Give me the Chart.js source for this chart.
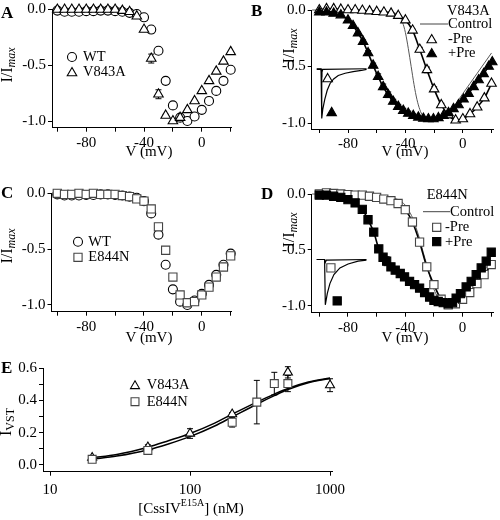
<!DOCTYPE html>
<html>
<head>
<meta charset="utf-8">
<title>Normalized I-V relations and CssIV E15A dose response</title>
<script src="https://cdn.jsdelivr.net/npm/chart.js@4.4.1/dist/chart.umd.min.js"></script>
<style>
  html, body { margin: 0; padding: 0; background: #fff; }
  #fig { position: relative; width: 500px; height: 520px; overflow: hidden; background: #fff;
         font-family: "Liberation Serif", "Times New Roman", serif; color: #000; }
  #fig canvas { position: absolute; }
  .txt { position: absolute; white-space: nowrap; line-height: 1; font-size: 15px; }
  .tag { font-size: 17px; font-weight: bold; }
  .ytitle { font-size: 16px; transform: translate(-50%, -50%) rotate(-90deg); }
  .xtitle { transform: translateX(-50%); }
  .sub { font-size: 12px; position: relative; top: 3px; }
  .sup { font-size: 10px; position: relative; top: -7px; }
</style>
</head>
<body>
<div id="fig">
  <canvas id="chartA" width="250" height="170" style="left:0;top:0"></canvas>
  <canvas id="chartB" width="250" height="170" style="left:250px;top:0"></canvas>
  <canvas id="chartC" width="250" height="170" style="left:0;top:170px"></canvas>
  <canvas id="chartD" width="250" height="170" style="left:250px;top:170px"></canvas>
  <canvas id="chartE" width="500" height="180" style="left:0;top:340px"></canvas>

  <div class="txt tag" style="left:1px;top:4px">A</div>
  <div class="txt tag" style="left:251px;top:2px">B</div>
  <div class="txt tag" style="left:1px;top:184px">C</div>
  <div class="txt tag" style="left:261px;top:185px">D</div>
  <div class="txt tag" style="left:1px;top:359px">E</div>

  <div class="txt ytitle" style="left:7px;top:65px">I/I<i class="sub">max</i></div>
  <div class="txt ytitle" style="left:289px;top:46px">I/I<i class="sub">max</i></div>
  <div class="txt ytitle" style="left:7px;top:246px">I/I<i class="sub">max</i></div>
  <div class="txt ytitle" style="left:289px;top:230px">I/I<i class="sub">max</i></div>
  <div class="txt ytitle" style="left:6px;top:422px">I<span class="sub">VST</span></div>

  <div class="txt xtitle" style="left:149px;top:144px">V (mV)</div>
  <div class="txt xtitle" style="left:405px;top:144px">V (mV)</div>
  <div class="txt xtitle" style="left:149px;top:330px">V (mV)</div>
  <div class="txt xtitle" style="left:405px;top:330px">V (mV)</div>
  <div class="txt xtitle" style="left:191px;top:501px">[CssIV<span class="sup">E15A</span>] (nM)</div>
</div>

<script>
// ---- axis ticks ----
const ivTicks = [-100, -80, -60, -40, -20, 0, 20];
const ivTickLabels = [-80, -40, 0];
const iTicks = [-1.0, -0.5, 0.0];
const concTicks = [10, 100, 1000];
const vstTicks = [0.0, 0.1, 0.2, 0.3, 0.4, 0.5, 0.6];
const vstTickLabels = [0.0, 0.2, 0.4, 0.6];

// ---- panels A and C (5 mV steps) ----
const stepV = [-100, -95, -90, -85, -80, -75, -70, -65, -60, -55, -50, -45, -40, -35, -30, -25, -20, -15, -10, -5, 0, 5, 10, 15, 20];
const wtI = [-0.01, -0.02, -0.02, -0.02, -0.015, -0.015, -0.01, -0.01, -0.015, -0.02, -0.03, -0.04, -0.07, -0.18, -0.37, -0.64, -0.86, -0.97, -1.0, -0.96, -0.9, -0.82, -0.73, -0.64, -0.54];
const wtErr = [0, 0, 0, 0, 0, 0, 0, 0, 0, 0, 0, 0, 0.01, 0.015, 0.03, 0.03, 0.02, 0, 0, 0, 0, 0, 0.02, 0.01, 0];
const v843aI = [0.0, 0.0, 0.0, 0.0, 0.0, 0.0, 0.0, 0.0, 0.0, -0.01, -0.02, -0.06, -0.18, -0.44, -0.76, -0.95, -1.0, -0.97, -0.9, -0.82, -0.73, -0.64, -0.555, -0.465, -0.38];
const v843aErr = [0, 0, 0, 0, 0, 0, 0, 0, 0, 0, 0, 0, 0.01, 0.04, 0.04, 0.01, 0, 0, 0, 0, 0, 0, 0, 0, 0];
const e844nI = [0.0, -0.01, -0.01, 0.0, -0.01, 0.0, -0.01, -0.01, -0.01, -0.02, -0.03, -0.05, -0.07, -0.14, -0.30, -0.51, -0.75, -0.91, -0.98, -0.97, -0.91, -0.84, -0.75, -0.66, -0.56];

// ---- panel B: V843A ----
const bOffI = [0.0, 0.01, 0.01, 0.005, 0.0, 0.0, -0.005, -0.01, -0.015, -0.02, -0.03, -0.05, -0.09, -0.18, -0.35, -0.53, -0.70, -0.84, -0.93, -0.975, -0.965, -0.92, -0.86, -0.78, -0.65];
const bOffErr = [0, 0, 0, 0, 0, 0, 0, 0, 0, 0, 0, 0, 0, 0.01, 0.02, 0.025, 0.02, 0.015, 0, 0, 0, 0, 0, 0, 0];
const bOnV = [-100, -95, -90, -85, -80, -76.5, -73, -69.5, -66, -62.5, -59, -55.5, -52, -48.5, -45, -41.5, -38, -34.5, -31, -27.5, -24, -20.5, -17, -13.5, -10, -6.5, -3, 0.5, 4, 7.5, 11, 14.5, 18, 20.5];
const bOnI = [-0.02, -0.02, -0.03, -0.045, -0.09, -0.14, -0.205, -0.28, -0.38, -0.49, -0.59, -0.68, -0.75, -0.81, -0.855, -0.89, -0.915, -0.935, -0.95, -0.96, -0.965, -0.965, -0.955, -0.935, -0.91, -0.875, -0.84, -0.79, -0.74, -0.68, -0.62, -0.565, -0.5, -0.46];
const bOnErr = [0, 0, 0, 0, 0, 0, 0.01, 0.015, 0.02, 0.02, 0.025, 0.025, 0.025, 0.02, 0.02, 0.02, 0.02, 0.015, 0.015, 0.01, 0.01, 0.01, 0, 0, 0, 0, 0, 0, 0, 0, 0, 0, 0, 0];
const bCtlV = [-105, -70, -55, -50, -46, -44, -42, -40, -38, -36, -34, -32, -30, -28, -26, -24, -22, -20, -15, -10, -5, 0, 5, 10, 15, 20];
const bCtlI = [0.0, -0.005, -0.01, -0.02, -0.035, -0.06, -0.11, -0.2, -0.34, -0.5, -0.66, -0.79, -0.88, -0.935, -0.96, -0.975, -0.98, -0.98, -0.96, -0.91, -0.83, -0.74, -0.65, -0.56, -0.47, -0.38];
// inset current traces (drawn in the panel's own units)
const bTrOnV = [-101.8, -98.8, -98.3, -97.6, -96.2, -94.5, -92.5, -90, -86.8, -82, -76.4, -70.6, -67.1];
const bTrOnI = [-0.525, -0.525, -0.96, -0.88, -0.79, -0.71, -0.65, -0.61, -0.58, -0.56, -0.545, -0.535, -0.525];
const bTrOffV = [-101.8, -98.8, -98.3, -97.5, -67.1];
const bTrOffI = [-0.52, -0.52, -0.55, -0.525, -0.52];
const bTagOffV = [-94.2], bTagOffI = [-0.61];
const bTagOnV = [-91.4], bTagOnI = [-0.91];

// ---- panel D: E844N ----
const dOffI = [0.0, 0.01, 0.005, 0.0, -0.005, -0.01, -0.01, -0.02, -0.03, -0.045, -0.06, -0.085, -0.14, -0.25, -0.43, -0.65, -0.81, -0.94, -0.99, -0.98, -0.94, -0.88, -0.80, -0.72, -0.63];
const dOnV = [-100, -95, -90, -85, -80, -75, -70, -66, -62, -58.5, -55.5, -53, -50, -47, -43.5, -40.5, -37, -33.5, -30, -26.5, -23, -20, -17, -13.5, -10, -7, -4.5, -1.5, 2.5, 6, 9.5, 13, 16.5, 20];
const dOnI = [-0.01, -0.01, -0.02, -0.03, -0.05, -0.08, -0.137, -0.23, -0.34, -0.49, -0.565, -0.60, -0.65, -0.68, -0.71, -0.74, -0.78, -0.81, -0.84, -0.88, -0.92, -0.95, -0.96, -0.97, -0.98, -0.97, -0.93, -0.89, -0.83, -0.78, -0.72, -0.66, -0.60, -0.52];
const dOnErr = [0, 0, 0, 0, 0, 0, 0, 0, 0, 0.02, 0.03, 0.04, 0.03, 0.03, 0.02, 0.03, 0.03, 0.02, 0.02, 0.02, 0.01, 0, 0, 0, 0, 0, 0, 0, 0, 0, 0, 0, 0, 0];
const dCtlV = [-105, -80, -65, -55, -50, -45, -40, -37.5, -35, -32.5, -30, -27.5, -25, -22.5, -20, -17.5, -15, -12.5, -10, -5, 0, 5, 10, 15, 20];
const dCtlI = [0.0, -0.005, -0.015, -0.025, -0.035, -0.05, -0.1, -0.15, -0.21, -0.3, -0.4, -0.52, -0.63, -0.75, -0.85, -0.92, -0.96, -0.98, -0.99, -0.97, -0.92, -0.84, -0.76, -0.68, -0.6];
const dTrOnV = [-101.8, -96.3, -95.8, -94.4, -92.6, -89.8, -85.6, -79.9, -72.9, -67.1];
const dTrOnI = [-0.585, -0.585, -0.99, -0.887, -0.80, -0.72, -0.66, -0.625, -0.60, -0.59];
const dTrOffV = [-101.8, -96.3, -95.8, -95, -67.1];
const dTrOffI = [-0.585, -0.585, -0.61, -0.59, -0.585];
const dTagOffV = [-91.9], dTagOffI = [-0.66];
const dTagOnV = [-87.5], dTagOnI = [-0.955];

// ---- panel E: dose response ----
const concV843A = [20, 50, 100, 200, 500, 1000];
const vstV843A = [0.045, 0.11, 0.195, 0.315, 0.575, 0.495];
const errV843A = [0.01, 0.015, 0.03, 0.01, 0.035, 0.04];
const concE844N = [20, 50, 200, 300, 400, 500];
const vstE844N = [0.035, 0.09, 0.265, 0.39, 0.505, 0.505];
const errE844N = [0.01, 0.01, 0.03, 0.135, 0.07, 0.05];
const fitConc = [20, 30, 50, 70, 100, 150, 200, 300, 400, 500, 700, 1000];
const fitV843A = [0.045, 0.065, 0.11, 0.15, 0.195, 0.26, 0.315, 0.39, 0.44, 0.475, 0.515, 0.54];
const fitE844N = [0.035, 0.055, 0.093, 0.13, 0.176, 0.242, 0.298, 0.377, 0.43, 0.468, 0.51, 0.537];

const SERIF = '"Liberation Serif", "Times New Roman", serif';
const tickFont = { family: SERIF, size: 15, lineHeight: 1 };
const SQUARE_GREY = '#444';

const pts = (xs, ys) => xs.map((x, i) => ({ x: x, y: ys[i] }));

// open / filled symbols, optionally joined by a line
function markSet(xs, ys, style, radius, color, fill, errs, lineWidth) {
  return {
    data: pts(xs, ys),
    errs: errs || null,
    pointStyle: style,
    pointRadius: radius,
    pointHoverRadius: radius,
    pointBorderWidth: 1.1,
    pointBorderColor: color,
    pointBackgroundColor: fill,
    showLine: !!lineWidth,
    borderColor: '#000',
    borderWidth: lineWidth || 0,
    cubicInterpolationMode: 'monotone',
    clip: false
  };
}

function lineSet(xs, ys, width, color, smooth) {
  return {
    data: pts(xs, ys),
    showLine: true,
    pointRadius: 0,
    pointHoverRadius: 0,
    borderColor: color,
    borderWidth: width,
    cubicInterpolationMode: smooth ? 'monotone' : 'default',
    tension: 0,
    clip: false
  };
}

// simple symbol painter for the keys, same geometry as Chart.js points
function drawMark(ctx, style, x, y, r) {
  ctx.beginPath();
  if (style === 'circle') {
    ctx.arc(x, y, r, 0, Math.PI * 2);
  } else if (style === 'triangle') {
    ctx.moveTo(x, y - r);
    ctx.lineTo(x + r * 0.866, y + r / 2);
    ctx.lineTo(x - r * 0.866, y + r / 2);
    ctx.closePath();
  } else {
    const s = r * Math.SQRT1_2;
    ctx.rect(x - s, y - s, 2 * s, 2 * s);
  }
  ctx.fill();
  ctx.stroke();
}

// vertical error bars with caps, painted under the symbols
const errorBars = {
  id: 'errorBars',
  beforeDatasetsDraw(chart) {
    const { ctx, scales: { x, y } } = chart;
    ctx.save();
    ctx.strokeStyle = '#000';
    ctx.lineWidth = 1;
    chart.data.datasets.forEach(ds => {
      if (!ds.errs) return;
      ds.data.forEach((p, i) => {
        const e = ds.errs[i];
        if (!e) return;
        const px = x.getPixelForValue(p.x);
        const y0 = y.getPixelForValue(p.y - e);
        const y1 = y.getPixelForValue(p.y + e);
        ctx.beginPath();
        ctx.moveTo(px, y0); ctx.lineTo(px, y1);
        ctx.moveTo(px - 3, y0); ctx.lineTo(px + 3, y0);
        ctx.moveTo(px - 3, y1); ctx.lineTo(px + 3, y1);
        ctx.stroke();
      });
    });
    ctx.restore();
  }
};

// key drawn inside the plot
const keyBox = {
  id: 'keyBox',
  afterDraw(chart, args, opts) {
    const ctx = chart.ctx;
    ctx.save();
    ctx.font = '14.5px ' + SERIF;
    ctx.textBaseline = 'middle';
    (opts.items || []).forEach(it => {
      if (it.line) {
        ctx.strokeStyle = '#444';
        ctx.lineWidth = 1;
        ctx.beginPath();
        ctx.moveTo(it.line[0], it.y);
        ctx.lineTo(it.line[1], it.y);
        ctx.stroke();
      }
      if (it.mark) {
        ctx.strokeStyle = it.color || '#000';
        ctx.fillStyle = it.fill;
        ctx.lineWidth = 1.1;
        drawMark(ctx, it.mark, it.mx, it.y + (it.mark === 'triangle' ? 1 : 0), it.r);
      }
      ctx.fillStyle = '#000';
      ctx.fillText(it.text, it.x, it.y);
    });
    ctx.restore();
  }
};

function xAxis(type, min, max, ticks, labelled, height, pad) {
  return {
    type: type, min: min, max: max,
    afterFit: s => { s.height = height; },
    afterBuildTicks: s => { s.ticks = ticks.map(v => ({ value: v })); },
    border: { display: true, color: '#000', width: 1 },
    grid: { drawOnChartArea: false, drawTicks: true, tickLength: 4, tickColor: '#000', tickWidth: 1 },
    ticks: { color: '#000', font: tickFont, padding: pad, autoSkip: false, maxRotation: 0,
             callback: v => labelled.includes(v) ? String(v) : '' }
  };
}

function yAxis(min, max, ticks, labelled, width) {
  return {
    type: 'linear', min: min, max: max,
    afterFit: s => { s.width = width; },
    afterBuildTicks: s => { s.ticks = ticks.map(v => ({ value: v })); },
    border: { display: true, color: '#000', width: 1 },
    grid: { drawOnChartArea: false, drawTicks: true, tickLength: 4, tickColor: '#000', tickWidth: 1 },
    ticks: { color: '#000', font: tickFont, padding: 2, autoSkip: false,
             callback: v => labelled.includes(v) ? v.toFixed(1) : '' }
  };
}

function makeChart(id, box, xScale, yScale, datasets, keyItems) {
  return new Chart(document.getElementById(id), {
    type: 'scatter',
    data: { datasets: datasets },
    options: {
      responsive: false,
      animation: false,
      devicePixelRatio: 1,
      events: [],
      layout: { padding: { left: 0, top: box.top, right: box.right, bottom: 0 } },
      scales: { x: xScale, y: yScale },
      plugins: { legend: { display: false }, tooltip: { enabled: false }, keyBox: { items: keyItems } }
    },
    plugins: [errorBars, keyBox]
  });
}

// Panel A: WT vs V843A
makeChart('chartA', { top: 8.3, right: 18.3 },
  xAxis('linear', -103.7, 20.7, ivTicks, ivTickLabels, 42.3, 4),
  yAxis(-1.06, 0, iTicks, iTicks, 52),
  [
    markSet(stepV, v843aI, 'triangle', 5.5, '#000', '#fff', v843aErr),
    markSet(stepV, wtI, 'circle', 4.5, '#000', '#fff', wtErr)
  ],
  [
    { mark: 'circle', r: 4.5, fill: '#fff', mx: 72, x: 83, y: 57, text: 'WT' },
    { mark: 'triangle', r: 5.5, fill: '#fff', mx: 72, x: 83, y: 72, text: 'V843A' }
  ]);

// Panel B: V843A with and without prepulse
makeChart('chartB', { top: 10, right: 6 },
  xAxis('linear', -105.3, 21.3, ivTicks, ivTickLabels, 41, 4),
  yAxis(-1.053, 0, iTicks, iTicks, 61.7),
  [
    markSet(bTagOnV, bTagOnI, 'triangle', 5.5, '#000', '#000'),
    markSet(bTagOffV, bTagOffI, 'triangle', 5.5, '#000', '#fff'),
    markSet(bOnV, bOnI, 'triangle', 5.5, '#000', '#000', bOnErr, 1.6),
    markSet(stepV, bOffI, 'triangle', 5.5, '#000', '#fff', bOffErr, 1.6),
    lineSet(bCtlV, bCtlI, 1, '#555', true),
    lineSet(bTrOnV, bTrOnI, 1.2, '#000', false),
    lineSet(bTrOffV, bTrOffI, 1.2, '#000', false)
  ],
  [
    { x: 197, y: 11, text: 'V843A' },
    { line: [170, 198], x: 198, y: 24, text: 'Control' },
    { mark: 'triangle', r: 5.5, fill: '#fff', mx: 181.7, x: 198, y: 39, text: '-Pre' },
    { mark: 'triangle', r: 5.5, fill: '#000', mx: 181.7, x: 198, y: 53, text: '+Pre' }
  ]);

// Panel C: WT vs E844N
makeChart('chartC', { top: 23.3, right: 18.3 },
  xAxis('linear', -104, 20.7, ivTicks, ivTickLabels, 28.3, 4),
  yAxis(-1.06, 0, iTicks, iTicks, 51.5),
  [
    markSet(stepV, e844nI, 'rect', 5.8, SQUARE_GREY, '#fff'),
    markSet(stepV, wtI, 'circle', 4.5, '#000', '#fff', wtErr)
  ],
  [
    { mark: 'circle', r: 4.5, fill: '#fff', mx: 78, x: 88.3, y: 71.7, text: 'WT' },
    { mark: 'rect', r: 5.8, fill: '#fff', color: SQUARE_GREY, mx: 78, x: 88.3, y: 87.3, text: 'E844N' }
  ]);

// Panel D: E844N with and without prepulse
makeChart('chartD', { top: 24, right: 6 },
  xAxis('linear', -105.3, 21.3, ivTicks, ivTickLabels, 27.3, 4),
  yAxis(-1.06, 0, iTicks, iTicks, 61.7),
  [
    markSet(dTagOnV, dTagOnI, 'rect', 5.8, '#000', '#000'),
    markSet(dTagOffV, dTagOffI, 'rect', 5.8, SQUARE_GREY, '#fff'),
    markSet(dOnV, dOnI, 'rect', 5.8, '#000', '#000', dOnErr, 1.6),
    markSet(stepV, dOffI, 'rect', 5.8, SQUARE_GREY, '#fff', null, 1.6),
    lineSet(dCtlV, dCtlI, 1, '#555', true),
    lineSet(dTrOnV, dTrOnI, 1.2, '#000', false),
    lineSet(dTrOffV, dTrOffI, 1.2, '#000', false)
  ],
  [
    { x: 176.7, y: 25, text: 'E844N' },
    { line: [173, 200], x: 200, y: 41.7, text: 'Control' },
    { mark: 'rect', r: 5.8, fill: '#fff', color: SQUARE_GREY, mx: 186.7, x: 195, y: 57.3, text: '-Pre' },
    { mark: 'rect', r: 5.8, fill: '#000', mx: 186.7, x: 195, y: 71.7, text: '+Pre' }
  ]);

// Panel E: voltage-sensor trapping vs toxin concentration
makeChart('chartE', { top: 28.3, right: 168 },
  xAxis('logarithmic', 8.91, 1033, concTicks, concTicks, 48.3, 7),
  yAxis(-0.042, 0.6, vstTicks, vstTickLabels, 43),
  [
    markSet(concE844N, vstE844N, 'rect', 5.6, SQUARE_GREY, '#fff', errE844N),
    markSet(concV843A, vstV843A, 'triangle', 5.2, '#000', '#fff', errV843A),
    lineSet(fitConc, fitV843A, 1.5, '#000', true),
    lineSet(fitConc, fitE844N, 1.5, '#000', true)
  ],
  [
    { mark: 'triangle', r: 5.2, fill: '#fff', mx: 135, x: 146.7, y: 45, text: 'V843A' },
    { mark: 'rect', r: 5.6, fill: '#fff', color: SQUARE_GREY, mx: 135, x: 146.7, y: 61.7, text: 'E844N' }
  ]);
</script>
</body>
</html>
